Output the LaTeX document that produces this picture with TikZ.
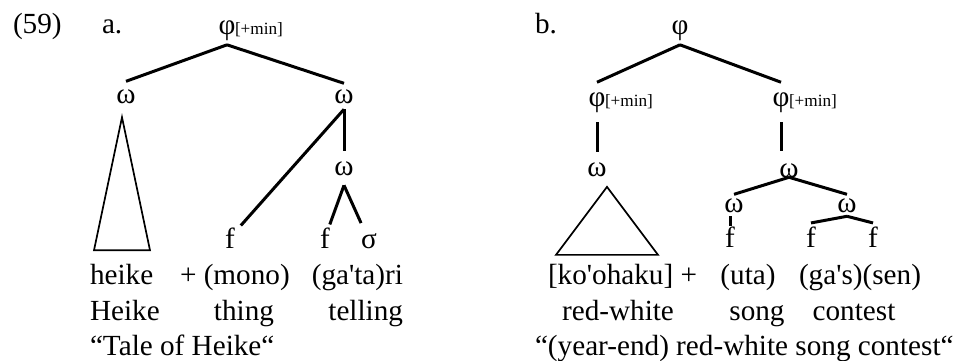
\documentclass[tikz,border=0pt]{standalone}
\usepackage{fontspec}
\setmainfont{Liberation Serif}
\begin{document}
\begin{tikzpicture}[x=0.5pt,y=-0.5pt,
  every node/.style={inner sep=0pt,outer sep=0pt,font=\fontsize{14.6}{17}\selectfont},
  gn/.style={anchor=base},
  minl/.style={anchor=base west,font=\fontsize{8.6}{10}\selectfont},
  wd/.style={anchor=base west},
  br/.style={line width=1.5pt},
  tri/.style={line width=0.85pt,line join=miter}]
  \useasboundingbox (0,0) rectangle (964,360);
  \node[wd] (ex) at (13,33) {(59)};
  \node[wd] (la) at (102,33) {a.};
  \node[wd] (lb) at (535,33) {b.};

  \node[gn,outer sep=2.3pt] (pA) at (227,34) {φ};
  \node[minl] (pAm) at (235,34) {[+min]};
  \node[gn,outer sep=4pt] (omAL) at (126,103) {ω};
  \node[gn,outer sep=3pt] (omAR) at (344,103) {ω};
  \node[gn,outer sep=5pt] (omAD) at (344,175) {ω};
  \node[gn,outer sep=3pt] (fA1) at (230,248) {f};
  \node[gn,outer sep=1.5pt] (fA2) at (325,248) {f};
  \node[gn,outer sep=5pt] (sgA) at (369,248) {σ};
  \draw[br] (pA.south) -- (omAL.north);
  \draw[br] (pA.south) -- (omAR.north);
  \draw[br] (omAR.south) -- (omAD.north);
  \draw[br] (omAR.south) -- (fA1);
  \draw[br] (omAD.south) -- (fA2);
  \draw[br] (omAD.south) -- (sgA);
  \draw[tri] (omAL.south) ++(-4,6) -- ++(-28,133) -- ++(56,0) -- cycle;
  \node[wd] (wA1) at (90,284) {heike};
  \node[wd] (wA2) at (180,284) {+ (mono)};
  \node[anchor=base east] (wA3) at (403,284) {(ga\textquotesingle ta)ri};
  \node[wd] (gA1) at (90,320) {Heike};
  \node[anchor=base] (gA2) at (244,320) {thing};
  \node[anchor=base east] (gA3) at (403,320) {telling};
  \node[wd] (trA) at (90,355) {“Tale of Heike“};

  \node[gn,outer sep=2.3pt] (pB) at (680,34) {φ};
  \node[gn,outer sep=5pt] (pBL) at (597,106) {φ};
  \node[minl] (pBLm) at (605,106) {[+min]};
  \node[gn,outer sep=5pt] (pBR) at (781,106) {φ};
  \node[minl] (pBRm) at (789,106) {[+min]};
  \node[gn,outer sep=5.3pt] (omBL) at (597,176) {ω};
  \node[gn] (omBR) at (789,177) {ω};
  \node[gn,outer sep=2pt] (omCL) at (734,212) {ω};
  \node[gn,outer sep=2pt] (omCR) at (847,212) {ω};
  \node[gn] (fB1) at (730,247) {f};
  \node[gn,outer sep=1.75pt] (fB2) at (811,247) {f};
  \node[gn,outer sep=1.75pt] (fB3) at (873,247) {f};
  \draw[br] (pB.south) -- (pBL.north);
  \draw[br] (pB.south) -- (pBR.north);
  \draw[br] (pBL.south) -- (omBL.north);
  \draw[br,shorten >=6pt] (pBR.south) -- (pBR.south |- omBR.north);
  \draw[br] (omBR.south) -- (omCL.north);
  \draw[br] (omBR.south) -- (omCR.north);
  \draw[br] (fB1.north |- omCL.south) -- (fB1.north);
  \draw[br] (omCR.south) -- (fB2.north);
  \draw[br] (omCR.south) -- (fB3.north);
  \draw[tri] (omBL.south) ++(10,0) -- ++(-51,68) -- ++(102,0) -- cycle;
  \node[wd] (wB1) at (548,284) {[ko\textquotesingle ohaku] +};
  \node[anchor=base] (wB2) at (748,284) {(uta)};
  \node[anchor=base] (wB3) at (860,284) {(ga\textquotesingle s)(sen)};
  \node[anchor=base] (gB1) at (618,320) {red-white};
  \node[anchor=base] (gB2) at (757,320) {song};
  \node[anchor=base] (gB3) at (854,320) {contest};
  \node[wd] (trB) at (535,355) {“(year-end) red-white song contest“};
\end{tikzpicture}
\end{document}
